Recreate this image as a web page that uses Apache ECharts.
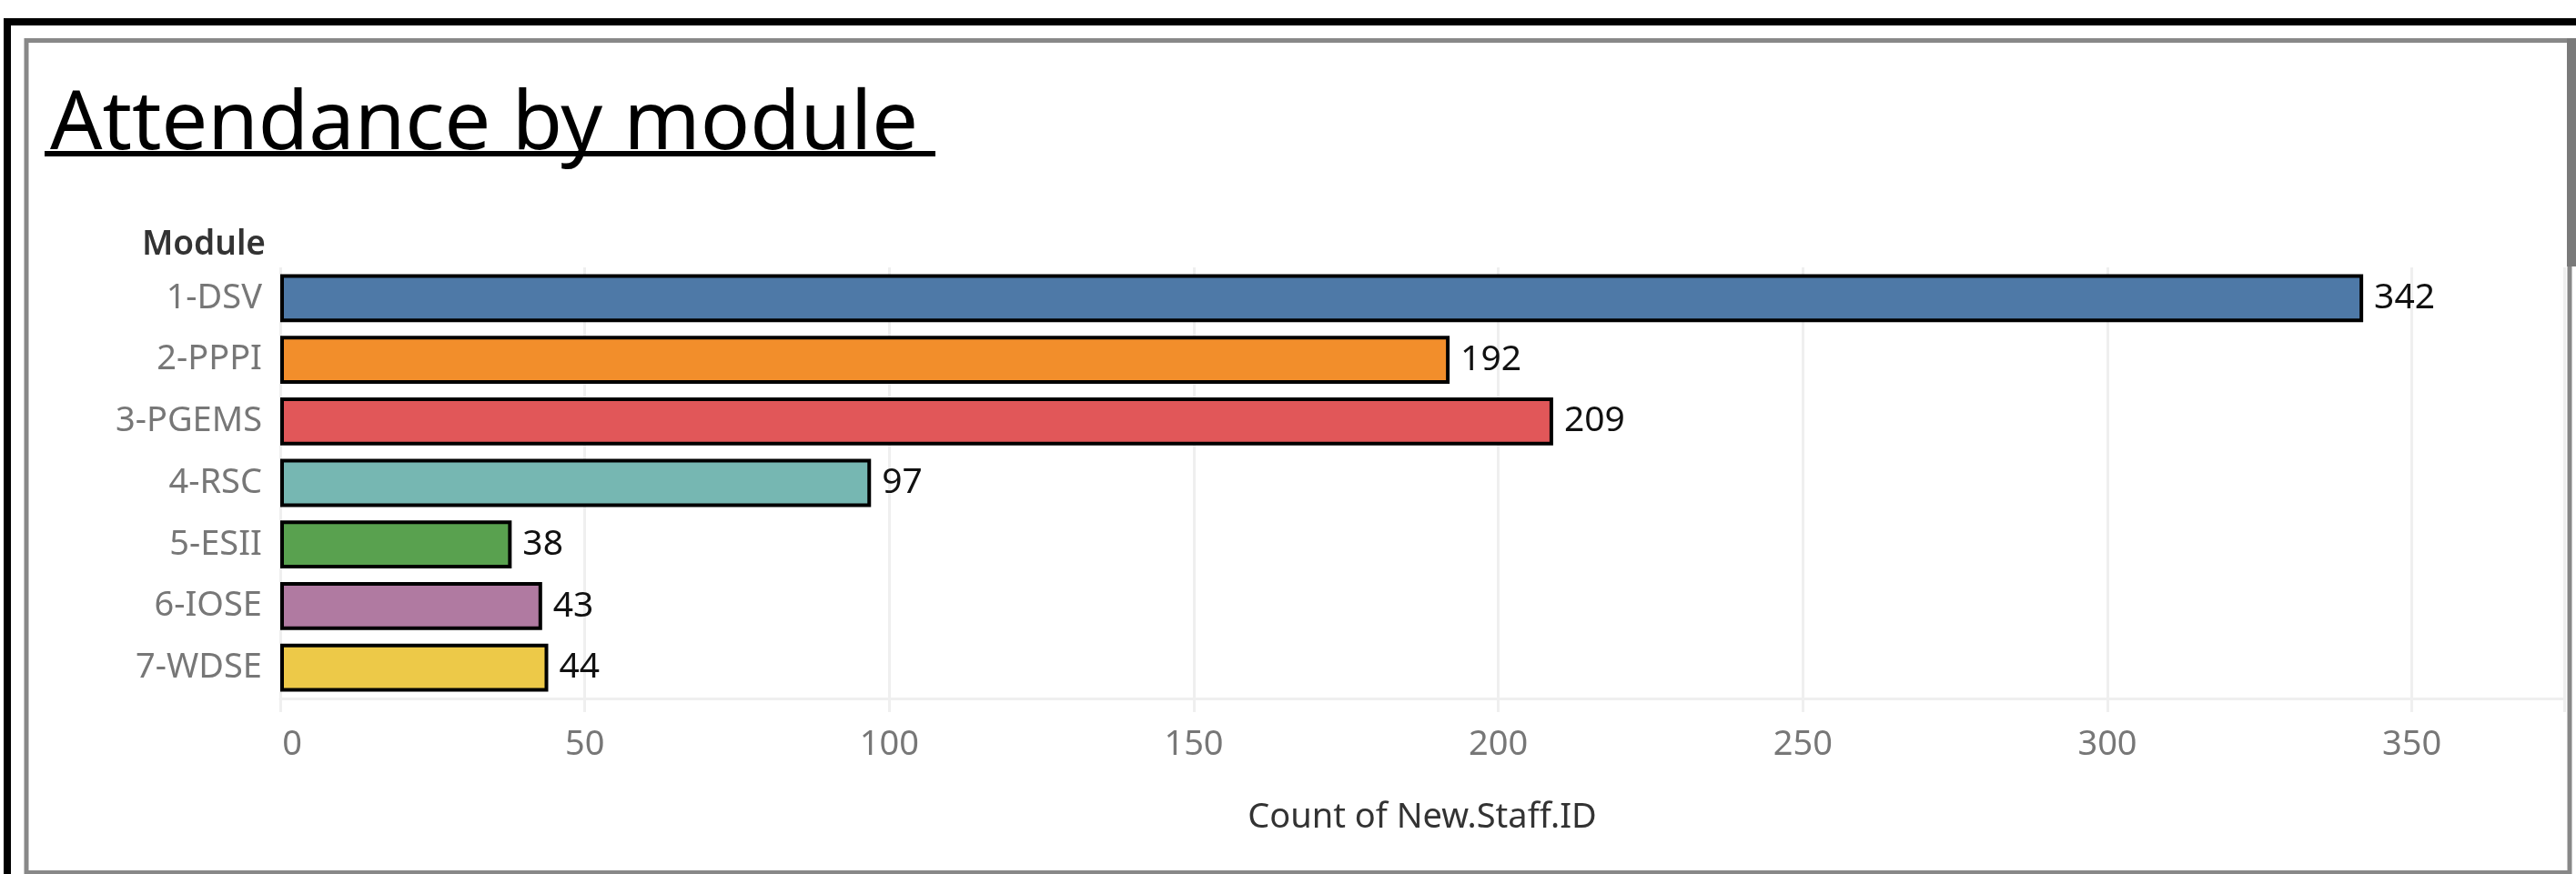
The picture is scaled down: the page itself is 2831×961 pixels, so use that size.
<!DOCTYPE html>
<html>
<head>
<meta charset="utf-8">
<script src="https://cdn.jsdelivr.net/npm/echarts@6/dist/echarts.min.js"></script>
<style>
  html, body { margin: 0; padding: 0; background: #fff; }
  #chart { width: 2831px; height: 961px; }
</style>
</head>
<body>
<div id="chart"></div>
<script>
    // data
    var modules = ['1-DSV', '2-PPPI', '3-PGEMS', '4-RSC', '5-ESII', '6-IOSE', '7-WDSE'];
    var counts = [342, 192, 209, 97, 38, 43, 44];
    var barColors = ['#4e79a7', '#f28e2b', '#e15759', '#76b7b2', '#59a14f', '#b07aa1', '#edc948'];
    var xTicks = [0, 50, 100, 150, 200, 250, 300, 350];

    var font = 'Noto Sans';
    var chart = echarts.init(document.getElementById('chart'));

    var seriesData = [];
    for (var i = 0; i < counts.length; i++) {
        seriesData.push({
            value: counts[i],
            itemStyle: { color: barColors[i] }
        });
    }

    var option = {
        backgroundColor: '#fff',
        animation: false,
        title: [
            {
                text: 'Attendance by module',
                left: 50,
                top: 88,
                textStyle: { fontFamily: font, fontSize: 90, fontWeight: 'normal', color: '#000' }
            },
            {
                text: 'Module',
                left: 287,
                textAlign: 'right',
                top: 246,
                textStyle: { fontFamily: font, fontSize: 37, fontWeight: 600, color: '#333' }
            }
        ],
        graphic: [
            // outer black frame
            { type: 'rect', shape: { x: 8, y: 24, width: 3000, height: 2000 },
              style: { fill: 'none', stroke: '#000', lineWidth: 8 }, silent: true },
            // inner grey frame
            { type: 'rect', shape: { x: 29, y: 44.5, width: 2795, height: 915 },
              style: { fill: 'none', stroke: '#888', lineWidth: 5 }, silent: true },
            { type: 'rect', shape: { x: 2821, y: 42, width: 10, height: 251 },
              style: { fill: '#7a7a7a' }, silent: true },
            // title underline
            { type: 'line', shape: { x1: 49, y1: 169, x2: 1028, y2: 169 },
              style: { stroke: '#000', lineWidth: 6 }, silent: true }
        ],
        grid: { left: 308, right: 13, top: 294, bottom: 193, containLabel: false },
        xAxis: {
            type: 'value',
            min: 0,
            max: 375,
            interval: 50,
            name: 'Count of New.Staff.ID',
            nameLocation: 'middle',
            nameGap: 112,
            nameTextStyle: { fontFamily: font, fontSize: 38, color: '#333' },
            axisLine: { show: true, lineStyle: { color: '#efefef', width: 3 } },
            axisTick: { show: true, length: 15, lineStyle: { color: '#efefef', width: 3 } },
            splitLine: { show: true, lineStyle: { color: '#efefef', width: 3 } },
            axisLabel: {
                margin: 32,
                fontFamily: font,
                fontSize: 38,
                color: '#777',
                formatter: function (v) {
                    if (v === 0) return '{first|0}';
                    return xTicks.indexOf(v) >= 0 ? String(v) : '';
                },
                rich: { first: { fontFamily: font, fontSize: 38, color: '#777', padding: [0, 0, 0, 26] } }
            }
        },
        yAxis: {
            type: 'category',
            inverse: true,
            data: modules,
            axisLine: { show: false },
            axisTick: { show: false },
            splitLine: { show: false },
            axisLabel: { margin: 20, fontFamily: font, fontSize: 38, color: '#777' }
        },
        series: [
            {
                type: 'bar',
                data: seriesData,
                barCategoryGap: '22%',
                itemStyle: { borderColor: '#000', borderWidth: 4 },
                label: {
                    show: true,
                    position: 'right',
                    distance: 12,
                    fontFamily: font,
                    fontSize: 39,
                    color: '#111'
                }
            }
        ]
    };

    chart.setOption(option);
</script>
</body>
</html>
